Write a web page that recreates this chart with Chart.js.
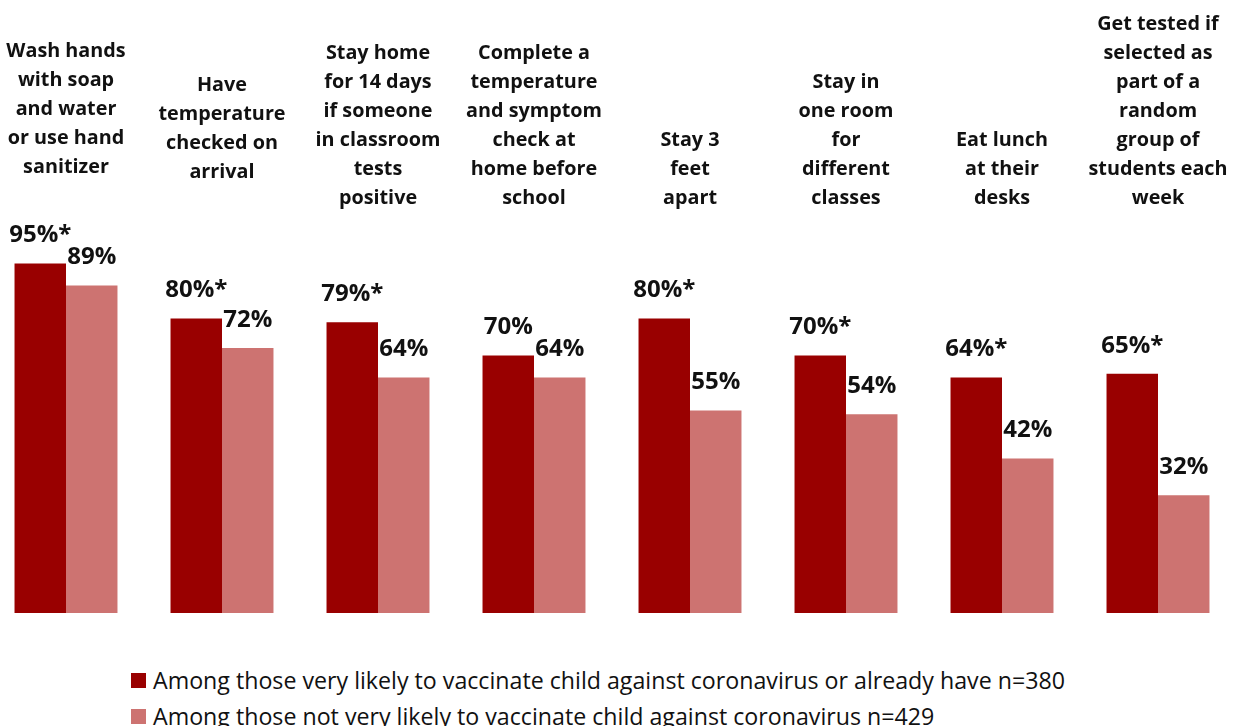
<!DOCTYPE html>
<html>
<head>
    <title>School safety measures</title>
    <script src="https://cdn.jsdelivr.net/npm/chart.js"></script>
    <style>
        body { margin: 0; background: #fff; overflow: hidden; font-family: "Open Sans", sans-serif; }
        .chart-box { position: absolute; left: -12px; top: 0; width: 1248px; height: 640px; }
        #legend { position: absolute; left: 131px; top: 662px; font-size: 23.2px; color: #111; }
        #legend div { height: 36px; display: flex; align-items: center; white-space: nowrap; }
        #legend span.sw { width: 15px; height: 15px; margin-right: 7px; display: inline-block; }
    </style>
</head>
<body>
<div class="chart-box">
    <canvas id="chart"></canvas>
</div>
<div id="legend"></div>

<script>
    const categories = [
        ['Wash hands', 'with soap', 'and water', 'or use hand', 'sanitizer'],
        ['Have', 'temperature', 'checked on', 'arrival'],
        ['Stay home', 'for 14 days', 'if someone', 'in classroom', 'tests', 'positive'],
        ['Complete a', 'temperature', 'and symptom', 'check at', 'home before', 'school'],
        ['Stay 3', 'feet', 'apart'],
        ['Stay in', 'one room', 'for', 'different', 'classes'],
        ['Eat lunch', 'at their', 'desks'],
        ['Get tested if', 'selected as', 'part of a', 'random', 'group of', 'students each', 'week']
    ];
    const seriesNames = [
        'Among those very likely to vaccinate child against coronavirus or already have n=380',
        'Among those not very likely to vaccinate child against coronavirus n=429'
    ];
    const likelyValues = [95, 80, 79, 70, 80, 70, 64, 65];
    const notLikelyValues = [89, 72, 64, 64, 55, 54, 42, 32];
    // significant difference marker
    const likelySignificant = [true, true, true, false, true, true, true, true];
    const colors = ['#990000', '#CD7371'];

    // category text above the plot, bottom-aligned
    const categoryLabels = {
        id: 'categoryLabels',
        afterDraw(chart, args, opts) {
            const ctx = chart.ctx;
            const x = chart.scales.x;
            ctx.save();
            ctx.font = 'bold 19.8px "Open Sans", sans-serif';
            ctx.fillStyle = '#111';
            ctx.textAlign = 'center';
            ctx.textBaseline = 'middle';
            categories.forEach((lines, i) => {
                const cx = x.getPixelForValue(i);
                const last = opts.bottom - (opts.lift[i] || 0);
                lines.forEach((line, j) => {
                    ctx.fillText(line, cx, last - (lines.length - 1 - j) * opts.lineHeight);
                });
            });
            ctx.restore();
        }
    };

    const valueLabels = {
        id: 'valueLabels',
        afterDatasetsDraw(chart) {
            const ctx = chart.ctx;
            ctx.save();
            ctx.font = 'bold 24px "Open Sans", sans-serif';
            ctx.fillStyle = '#111';
            ctx.textAlign = 'center';
            ctx.textBaseline = 'middle';
            chart.data.datasets.forEach((ds, d) => {
                chart.getDatasetMeta(d).data.forEach((bar, i) => {
                    let txt = ds.data[i] + '%';
                    if (d === 0 && likelySignificant[i]) txt += '*';
                    ctx.fillText(txt, bar.x, bar.y - 28);
                });
            });
            ctx.restore();
        }
    };

    const chart = new Chart(document.getElementById('chart'), {
        type: 'bar',
        data: {
            labels: categories.map(c => c.join(' ')),
            datasets: [
                { label: seriesNames[0], data: likelyValues, backgroundColor: colors[0] },
                { label: seriesNames[1], data: notLikelyValues, backgroundColor: colors[1] }
            ]
        },
        options: {
            responsive: true,
            maintainAspectRatio: false,
            animation: false,
            layout: { padding: { top: 245, bottom: 27, left: 0, right: 0 } },
            datasets: { bar: { categoryPercentage: 0.66, barPercentage: 1 } },
            scales: {
                x: { display: false },
                y: { display: false, min: 0, max: 100 }
            },
            plugins: {
                legend: { display: false },
                tooltip: { enabled: false },
                categoryLabels: { bottom: 198, lineHeight: 29, lift: [31, 26, 0, 0, 0, 0, 0, 0] }
            }
        },
        plugins: [categoryLabels, valueLabels]
    });

    // legend
    const legend = document.getElementById('legend');
    seriesNames.forEach((name, i) => {
        const row = document.createElement('div');
        row.innerHTML = `<span class="sw" style="background:${colors[i]}"></span>${name}`;
        legend.appendChild(row);
    });
</script>
</body>
</html>
